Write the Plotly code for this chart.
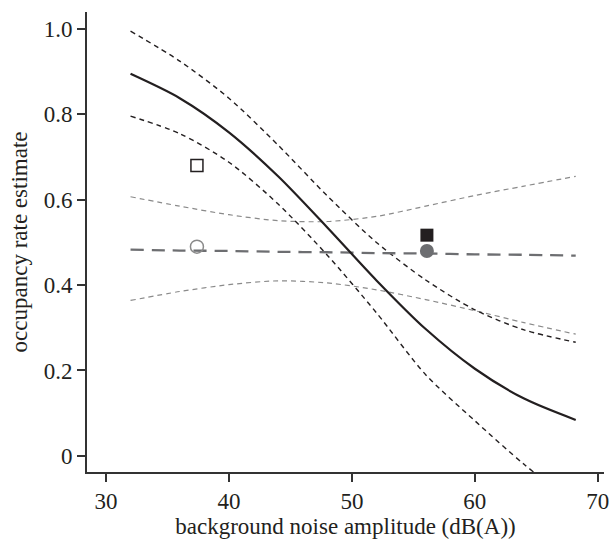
import plotly.graph_objects as go

x_read = [32, 36, 40, 44, 48, 52, 56, 60, 64, 68.2]

# model 1 (black): fitted occupancy and 95% bounds
black_fit = [0.895, 0.838, 0.758, 0.655, 0.535, 0.411, 0.297, 0.204, 0.134, 0.084]
black_upper = [0.995, 0.925, 0.838, 0.728, 0.609, 0.500, 0.412, 0.342, 0.295, 0.266]
black_lower = [0.796, 0.755, 0.688, 0.590, 0.470, 0.335, 0.190, 0.082, -0.020, -0.115]

# model 2 (grey): fitted occupancy and 95% bounds
grey_fit = [0.483, 0.481, 0.480, 0.478, 0.477, 0.475, 0.474, 0.472, 0.471, 0.469]
grey_upper = [0.607, 0.585, 0.565, 0.551, 0.549, 0.561, 0.585, 0.610, 0.632, 0.655]
grey_lower = [0.364, 0.385, 0.401, 0.410, 0.405, 0.389, 0.366, 0.340, 0.312, 0.285]

# observed site means
obs_x = [37.4, 56.1]
obs_black = [0.680, 0.517]
obs_grey = [0.490, 0.480]

x_ticks = [30, 40, 50, 60, 70]
y_ticks = [0, 0.2, 0.4, 0.6, 0.8, 1.0]
y_tick_text = ["0", "0.2", "0.4", "0.6", "0.8", "1.0"]

BLACK = "#231f20"
GREY = "#6d6e71"
LIGHTGREY = "#8a8a8a"

fig = go.Figure()

def line(y, color, width, dash):
    fig.add_trace(go.Scatter(x=x_read, y=y, mode="lines",
                             line=dict(color=color, width=width, dash=dash, shape="spline", smoothing=0.8),
                             showlegend=False, hoverinfo="skip"))

line(grey_upper, LIGHTGREY, 1.2, "5px,4px")
line(grey_lower, LIGHTGREY, 1.2, "5px,4px")
line(black_upper, BLACK, 1.4, "5px,4px")
line(black_lower, BLACK, 1.4, "5px,4px")
line(grey_fit, GREY, 2.3, "13px,8px")
line(black_fit, BLACK, 2.2, "solid")

# open markers (first site)
fig.add_trace(go.Scatter(x=[obs_x[0]], y=[obs_black[0]], mode="markers",
                         marker=dict(symbol="square", size=12, color="white",
                                     line=dict(color=BLACK, width=1.5)),
                         showlegend=False, hoverinfo="skip"))
fig.add_trace(go.Scatter(x=[obs_x[0]], y=[obs_grey[0]], mode="markers",
                         marker=dict(symbol="circle", size=13, color="rgba(255,255,255,0)",
                                     line=dict(color=LIGHTGREY, width=1.5)),
                         showlegend=False, hoverinfo="skip"))
# filled markers (second site)
fig.add_trace(go.Scatter(x=[obs_x[1]], y=[obs_black[1]], mode="markers",
                         marker=dict(symbol="square", size=13, color=BLACK,
                                     line=dict(color=BLACK, width=0)),
                         showlegend=False, hoverinfo="skip"))
fig.add_trace(go.Scatter(x=[obs_x[1]], y=[obs_grey[1]], mode="markers",
                         marker=dict(symbol="circle", size=14, color=GREY,
                                     line=dict(color=GREY, width=0)),
                         showlegend=False, hoverinfo="skip"))

font = dict(family="Liberation Serif", size=23, color=BLACK)

fig.update_layout(
    width=612, height=539,
    margin=dict(l=87, r=8, t=12, b=67),
    paper_bgcolor="white", plot_bgcolor="white",
    font=font,
    xaxis=dict(range=[28.46, 70.5], tickvals=x_ticks, ticks="outside", ticklen=8,
               tickwidth=1.5, tickcolor="#333333", showline=True, linecolor="#333333",
               linewidth=1.6, showgrid=False, zeroline=False, automargin=False,
               title=dict(text="background noise amplitude (dB(A))", standoff=4, font=font)),
    yaxis=dict(range=[-0.038, 1.04], tickvals=y_ticks, ticktext=y_tick_text, ticks="outside",
               ticklen=8, tickwidth=1.5, tickcolor="#333333", showline=True,
               linecolor="#333333", linewidth=1.6, showgrid=False, zeroline=False,
               automargin=False,
               title=dict(text="occupancy rate estimate", standoff=10, font=font)),
)

fig.write_html("out.html", config={"displayModeBar": False},
               post_script="document.body.style.margin='0';document.body.style.overflow='hidden';")
